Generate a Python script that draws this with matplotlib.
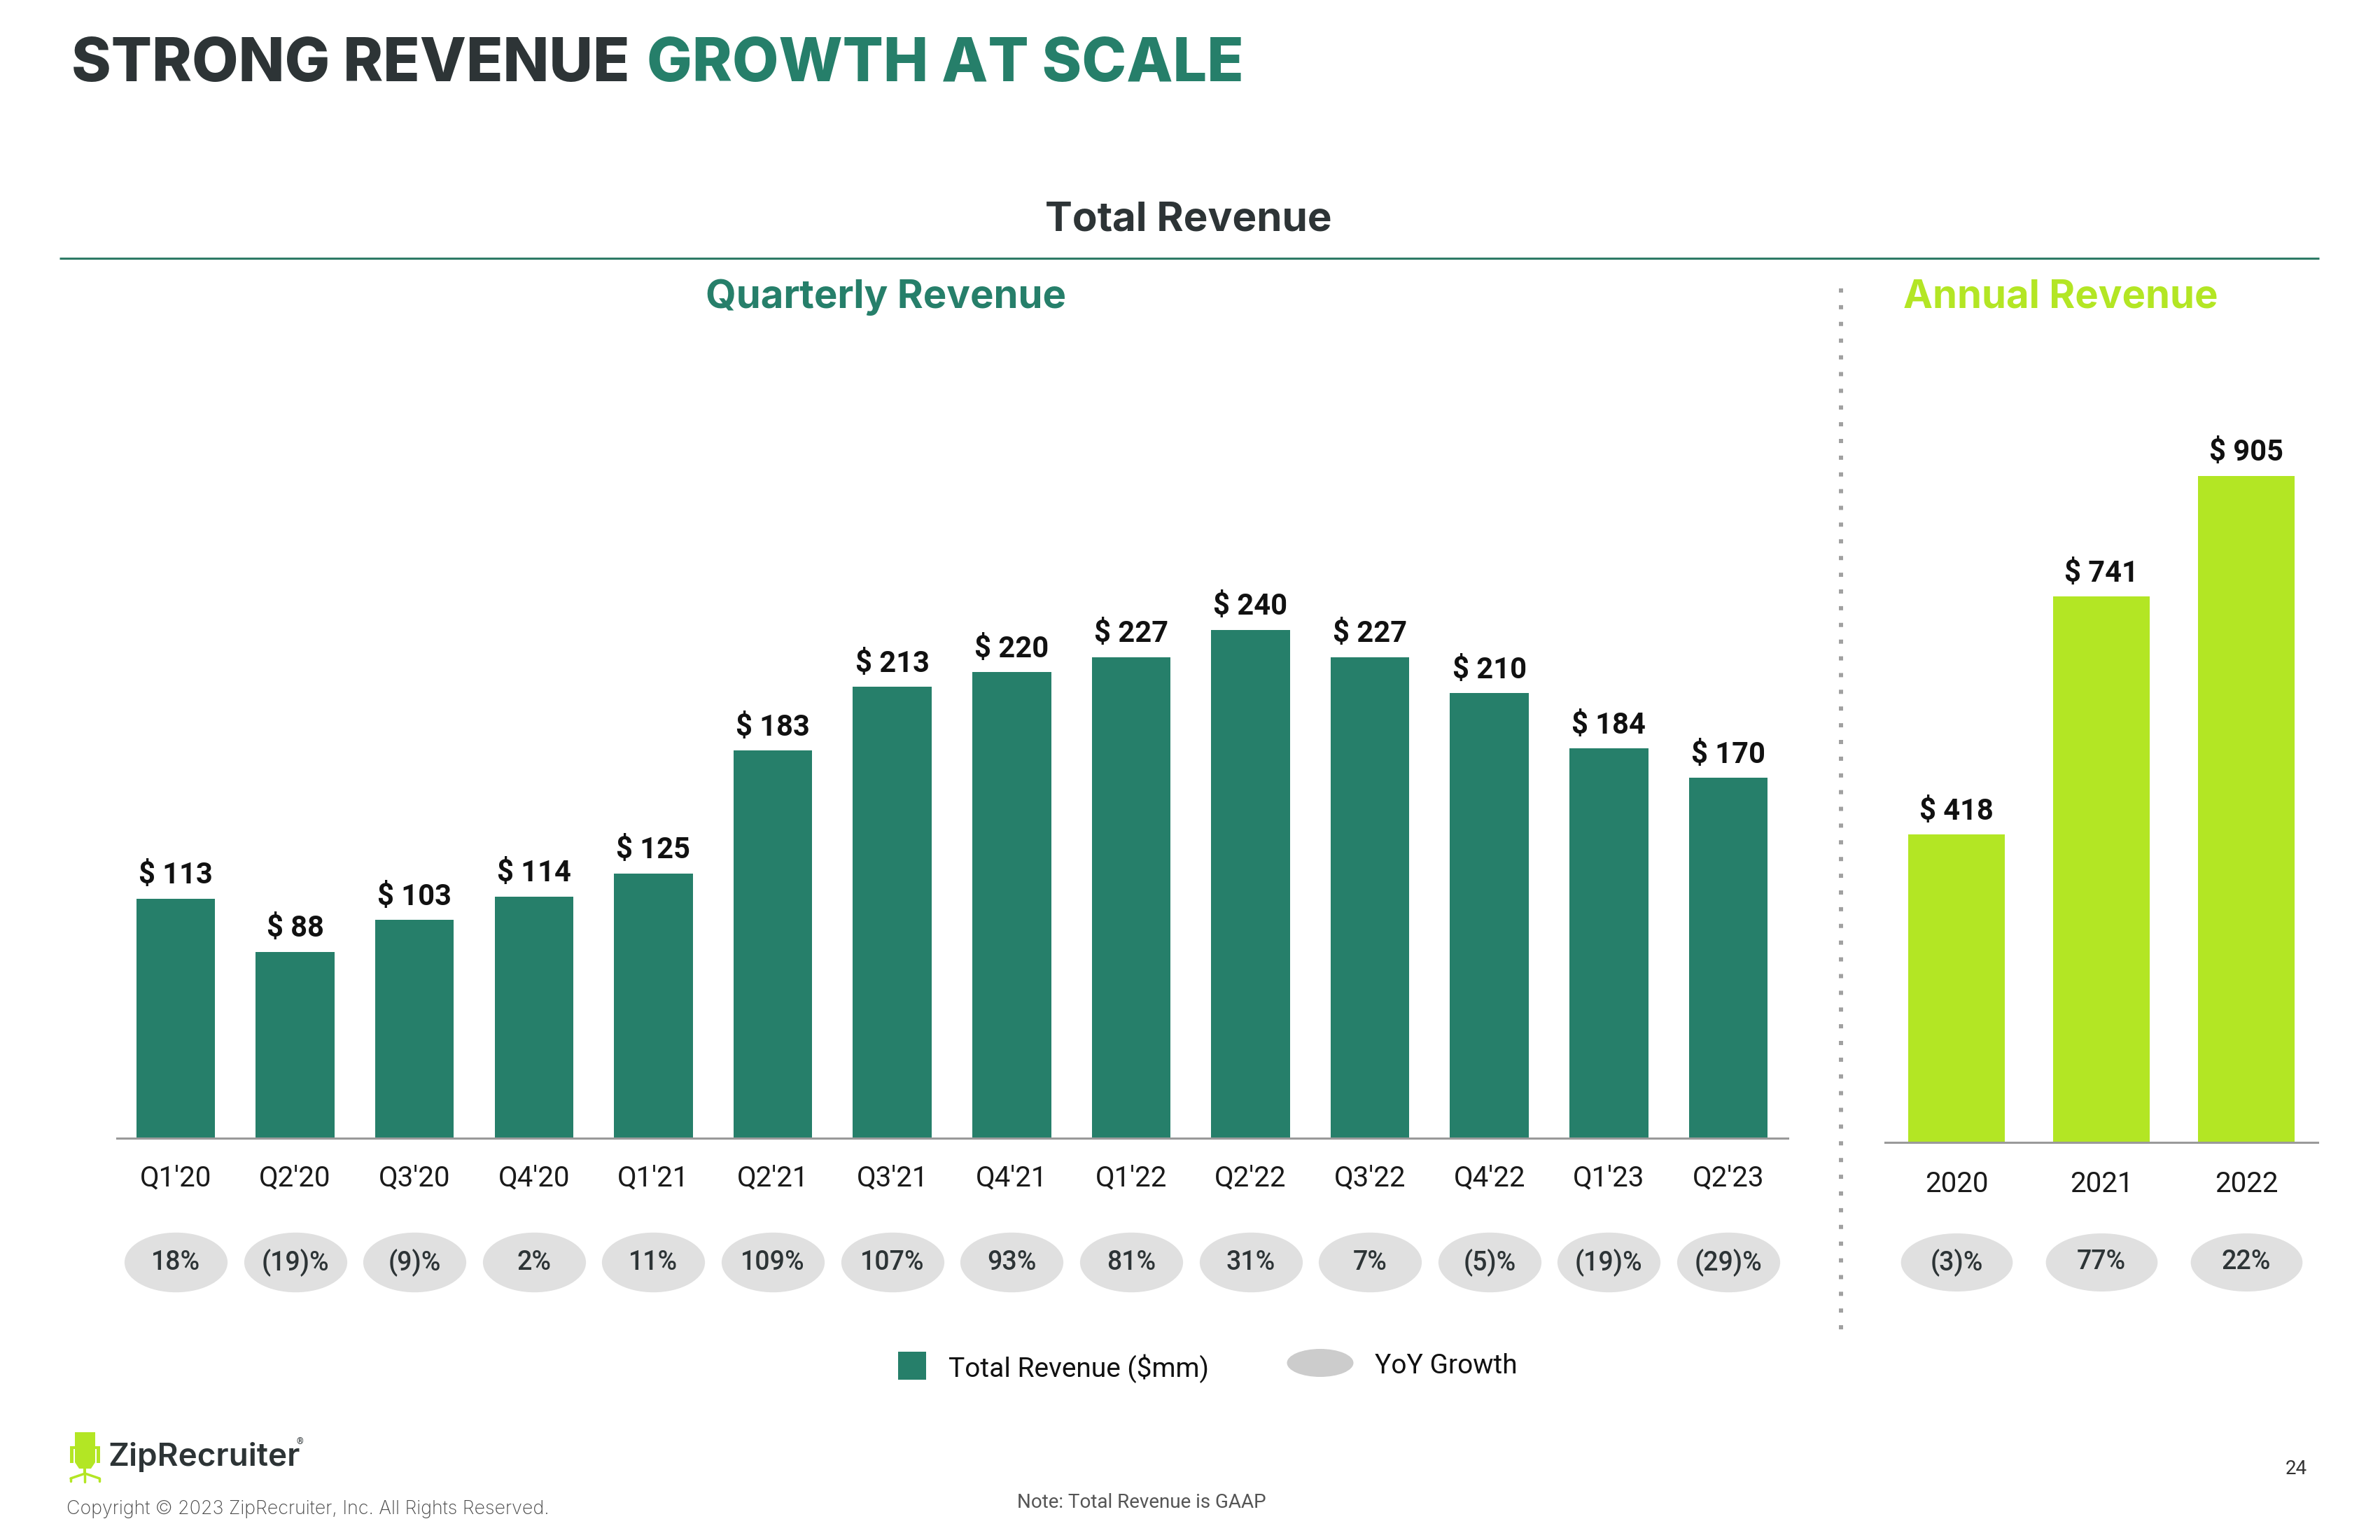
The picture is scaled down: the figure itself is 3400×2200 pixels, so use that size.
import matplotlib
matplotlib.use("Agg")
import matplotlib.pyplot as plt
from matplotlib.path import Path
from matplotlib.patches import Rectangle, Polygon, Ellipse

# ---------------- data ----------------
quarters = ["Q1'20", "Q2'20", "Q3'20", "Q4'20", "Q1'21", "Q2'21", "Q3'21",
            "Q4'21", "Q1'22", "Q2'22", "Q3'22", "Q4'22", "Q1'23", "Q2'23"]
q_revenue = [113, 88, 103, 114, 125, 183, 213, 220, 227, 240, 227, 210, 184, 170]
q_growth = [18, -19, -9, 2, 11, 109, 107, 93, 81, 31, 7, -5, -19, -29]

years = ["2020", "2021", "2022"]
a_revenue = [418, 741, 905]
a_growth = [-3, 77, 22]

# ---------------- style ----------------
DARK = "#2d3436"
TEAL = "#267f6a"
LIME = "#b3e624"
ELL = "#e0e0e0"
HEAD_FONT = ["Inter", "DejaVu Sans"]
NUM_FONT = ["Roboto", "DejaVu Sans"]
W, H = 3400, 2200


def fmt_growth(g):
    return f"({abs(g)})%" if g < 0 else f"{g}%"


def fx(px):
    return px / W


def fy(py):
    return 1 - py / H


def ellipse_marker(ratio):
    c = Path.unit_circle()
    v = c.vertices.copy()
    v[:, 1] *= ratio
    return Path(v, c.codes)


fig = plt.figure(figsize=(34, 22), dpi=100)
fig.patch.set_facecolor("white")

# overlay axes in pixel coordinates for page decorations
ov = fig.add_axes([0, 0, 1, 1], zorder=0)
ov.set_xlim(0, W)
ov.set_ylim(H, 0)
ov.axis("off")

# Title (two colours)
t1 = ov.text(102, 134, "STRONG REVENUE", fontsize=62, fontweight="heavy",
             family=HEAD_FONT, color=DARK, va="bottom", ha="left")
ov.annotate("GROWTH AT SCALE", xy=(1, 0), xycoords=t1, xytext=(18, 0),
            textcoords="offset points", fontsize=62, fontweight="heavy",
            family=HEAD_FONT, color=TEAL, va="bottom", ha="left")

ov.text(1698, 314, "Total Revenue", fontsize=42, fontweight="bold",
        family=HEAD_FONT, color=DARK, ha="center", va="center")
ov.plot([85, 3313], [369, 369], color="#2e7a66", lw=2.2, solid_capstyle="butt")
ov.text(1266, 425, "Quarterly Revenue", fontsize=40.5, fontweight="bold",
        family=HEAD_FONT, color=TEAL, ha="center", va="center")
ov.text(2944, 425, "Annual Revenue", fontsize=40.5, fontweight="bold",
        family=HEAD_FONT, color=LIME, ha="center", va="center")

# dotted divider
ov.plot([2630, 2630], [412, 1902], color="#a0a0a0", lw=4.3,
        linestyle=(0, (1, 3)), dash_capstyle="butt")

# legend
ov.add_patch(Rectangle((1283, 1931), 40, 40, color=TEAL, lw=0))
ov.text(1355, 1955, "Total Revenue ($mm)", fontsize=28, family=NUM_FONT,
        color="#111111", ha="left", va="center")
ov.add_patch(Ellipse((1886, 1947), 95, 40, color="#cccccc", lw=0))
ov.text(1964, 1951, "YoY Growth", fontsize=28, family=NUM_FONT,
        color="#111111", ha="left", va="center")

# logo: chair icon
chair = LIME
dy = 4
ov.add_patch(Polygon([[107, 2042 + dy], [136, 2042 + dy], [136, 2085 + dy],
                      [130, 2094 + dy], [113, 2094 + dy], [107, 2085 + dy]],
                     closed=True, color=chair, lw=0))
ov.add_patch(Rectangle((100, 2062 + dy), 5, 24, color=chair, lw=0))
ov.add_patch(Rectangle((138, 2062 + dy), 5, 24, color=chair, lw=0))
ov.add_patch(Rectangle((100, 2062 + dy), 8, 4, color=chair, lw=0))
ov.add_patch(Rectangle((135, 2062 + dy), 8, 4, color=chair, lw=0))
ov.add_patch(Rectangle((119.5, 2094 + dy), 4, 8, color=chair, lw=0))
ov.plot([101, 121.5, 142], [2108 + dy, 2101 + dy, 2108 + dy], color=chair,
        lw=2.5, solid_capstyle="round")
ov.plot([121.5, 121.5], [2101 + dy, 2113 + dy], color=chair, lw=2.5,
        solid_capstyle="round")
ov.plot([101, 101], [2108 + dy, 2112 + dy], color=chair, lw=2.5,
        solid_capstyle="round")
ov.plot([142, 142], [2108 + dy, 2112 + dy], color=chair, lw=2.5,
        solid_capstyle="round")

ov.text(154, 2094, "ZipRecruiter", fontsize=33, fontweight="semibold",
        family=HEAD_FONT, color=DARK, ha="left", va="baseline")
ov.text(424, 2060, "®", fontsize=9, family=NUM_FONT, color=DARK,
        ha="left", va="center")
ov.text(95, 2156, "Copyright © 2023 ZipRecruiter, Inc. All Rights Reserved.",
        fontsize=19.3, family=HEAD_FONT, fontweight="light", color="#4a4a4a",
        ha="left", va="center")
ov.text(1631, 2146, "Note: Total Revenue is GAAP", fontsize=20,
        family=NUM_FONT, color="#555555", ha="center", va="center")
ov.text(3280, 2098, "24", fontsize=20, family=NUM_FONT, color="#333333",
        ha="center", va="center")


def bar_panel(ax, labels, values, growth, color, width, ell_y, ell_w_pt,
              ell_ratio, tick_pad):
    x = list(range(len(labels)))
    bars = ax.bar(x, values, width=width, color=color, lw=0, zorder=2)
    ax.bar_label(bars, labels=[f"$ {v}" for v in values], padding=9,
                 fontsize=30, fontweight="bold", family=NUM_FONT,
                 color="#111111")
    ax.set_xticks(x)
    ax.set_xticklabels(labels, fontsize=29, family=NUM_FONT, color="#1a1a1a")
    ax.tick_params(axis="x", length=0, pad=tick_pad)
    ax.set_yticks([])
    for s in ["top", "right", "left"]:
        ax.spines[s].set_visible(False)
    ax.spines["bottom"].set_color("#9a9a9a")
    ax.spines["bottom"].set_linewidth(2.2)
    ax.set_facecolor("none")
    ax.scatter(x, [ell_y] * len(x), s=ell_w_pt ** 2,
               marker=ellipse_marker(ell_ratio), color=ELL, lw=0,
               clip_on=False, zorder=3)
    for xi, g in zip(x, growth):
        ax.text(xi, ell_y, fmt_growth(g), fontsize=27, fontweight="medium",
                family=NUM_FONT, color=DARK, ha="center", va="center",
                zorder=4, clip_on=False)


# quarterly panel
axq = fig.add_axes([fx(167), fy(1626), fx(2554 - 167), (1626 - 718) / H], zorder=1)
axq.set_xlim(-0.492, 13.498)
axq.set_ylim(0, 300)
bar_panel(axq, quarters, q_revenue, q_growth, TEAL, 0.66, -58.5, 106, 0.58, 27)

# annual panel
axa = fig.add_axes([fx(2693), fy(1632), fx(3311 - 2693), (1632 - 580) / H], zorder=1)
axa.set_xlim(-0.493, 2.493)
axa.set_ylim(0, 1000)
bar_panel(axa, years, a_revenue, a_growth, LIME, 0.67, -162.5, 115, 0.52, 29)

fig.savefig("out.png", dpi=100, facecolor="white")
